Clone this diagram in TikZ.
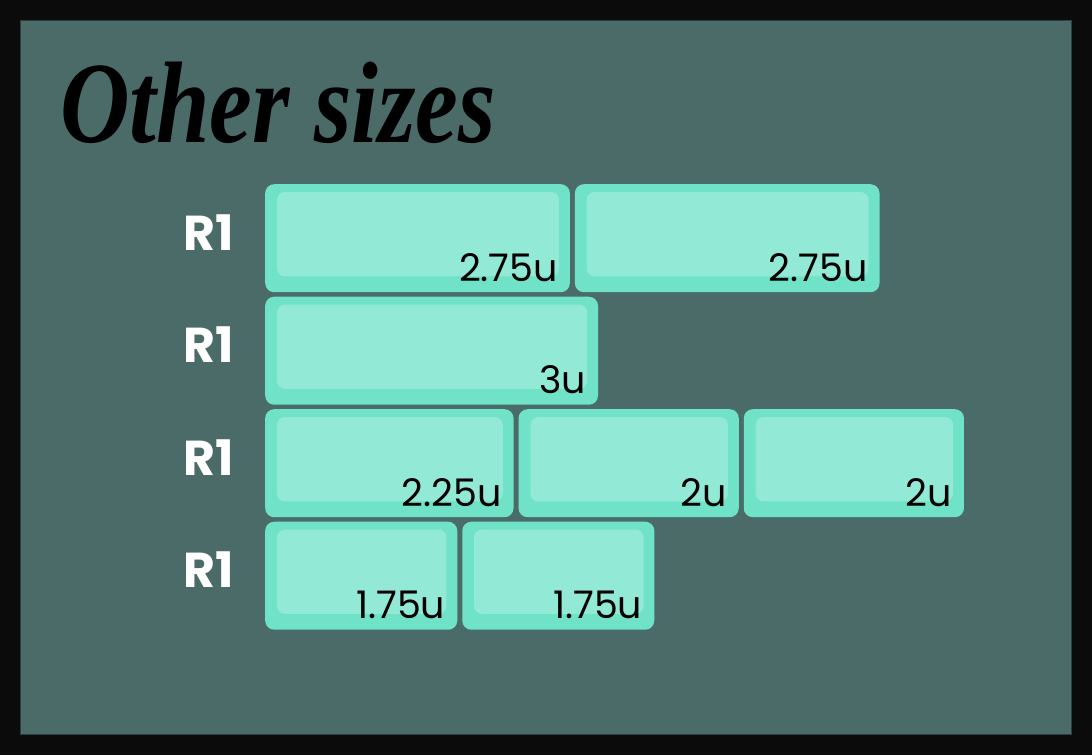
\documentclass[tikz,border=0pt]{standalone}
\usepackage{fontspec}
\newfontfamily\keyfont{Poppins}
\newfontfamily\titlefont{Liberation Serif}
\usetikzlibrary{positioning,calc}
\definecolor{framebg}{HTML}{0B0B0B}
\definecolor{panelbg}{HTML}{4B6B69}
\definecolor{capout}{HTML}{6FE2C7}
\definecolor{capin}{HTML}{92E9D6}

\begin{document}
\begin{tikzpicture}[x=1pt,y=-1pt,
  keycap/.style={fill=capout,rounded corners=9pt,minimum height=108pt,anchor=north west,inner sep=0pt},
  keytop/.style={fill=capin,rounded corners=8pt},
  sz/.style={font=\keyfont\fontsize{38}{40}\selectfont,anchor=base east,inner sep=0pt},
  rowlbl/.style={font=\keyfont\bfseries\fontsize{49}{52}\selectfont,text=white,anchor=base,inner sep=0pt}]
 \useasboundingbox (0,0) rectangle (1092,755);
 % frame and panel
 \fill[framebg] (0,0) rectangle (1092,755);
 \fill[panelbg] (20,20) rectangle (1071,734);
 \draw[panelbg!60!black,line width=1pt] (20,20) rectangle (1071,734);
 % title
 \node[anchor=base west,inner sep=0pt,xscale=0.83,font=\titlefont\bfseries\itshape\fontsize{116}{120}\selectfont] (title) at (60,142) {Other sizes};
 % keys: name/row/offset/width/label
 \foreach \n/\r/\o/\w/\t in {
   a/0/0/2.75/2.75u,
   b/0/2.75/2.75/2.75u,
   c/1/0/3/3u,
   d/2/0/2.25/2.25u,
   e/2/2.25/2/2u,
   f/2/4.25/2/2u,
   g/3/0/1.75/1.75u,
   h/3/1.75/1.75/1.75u} {
   \node[keycap,minimum width={\w*112.6pt-5pt}] (k\n) at ({265+\o*112.6},{184+\r*112.5}) {};
   \fill[keytop] ($(k\n.north west)+(12,8)$) rectangle ($(k\n.south east)+(-11,-16)$);
   \node[sz] (t\n) at ($(k\n.south east)+(-12,-11)$) {\t};
 }
 % row labels
 \foreach \r in {0,...,3}
   \node[rowlbl] (r\r) at (209,{250+\r*112.5}) {R1};
\end{tikzpicture}
\end{document}
